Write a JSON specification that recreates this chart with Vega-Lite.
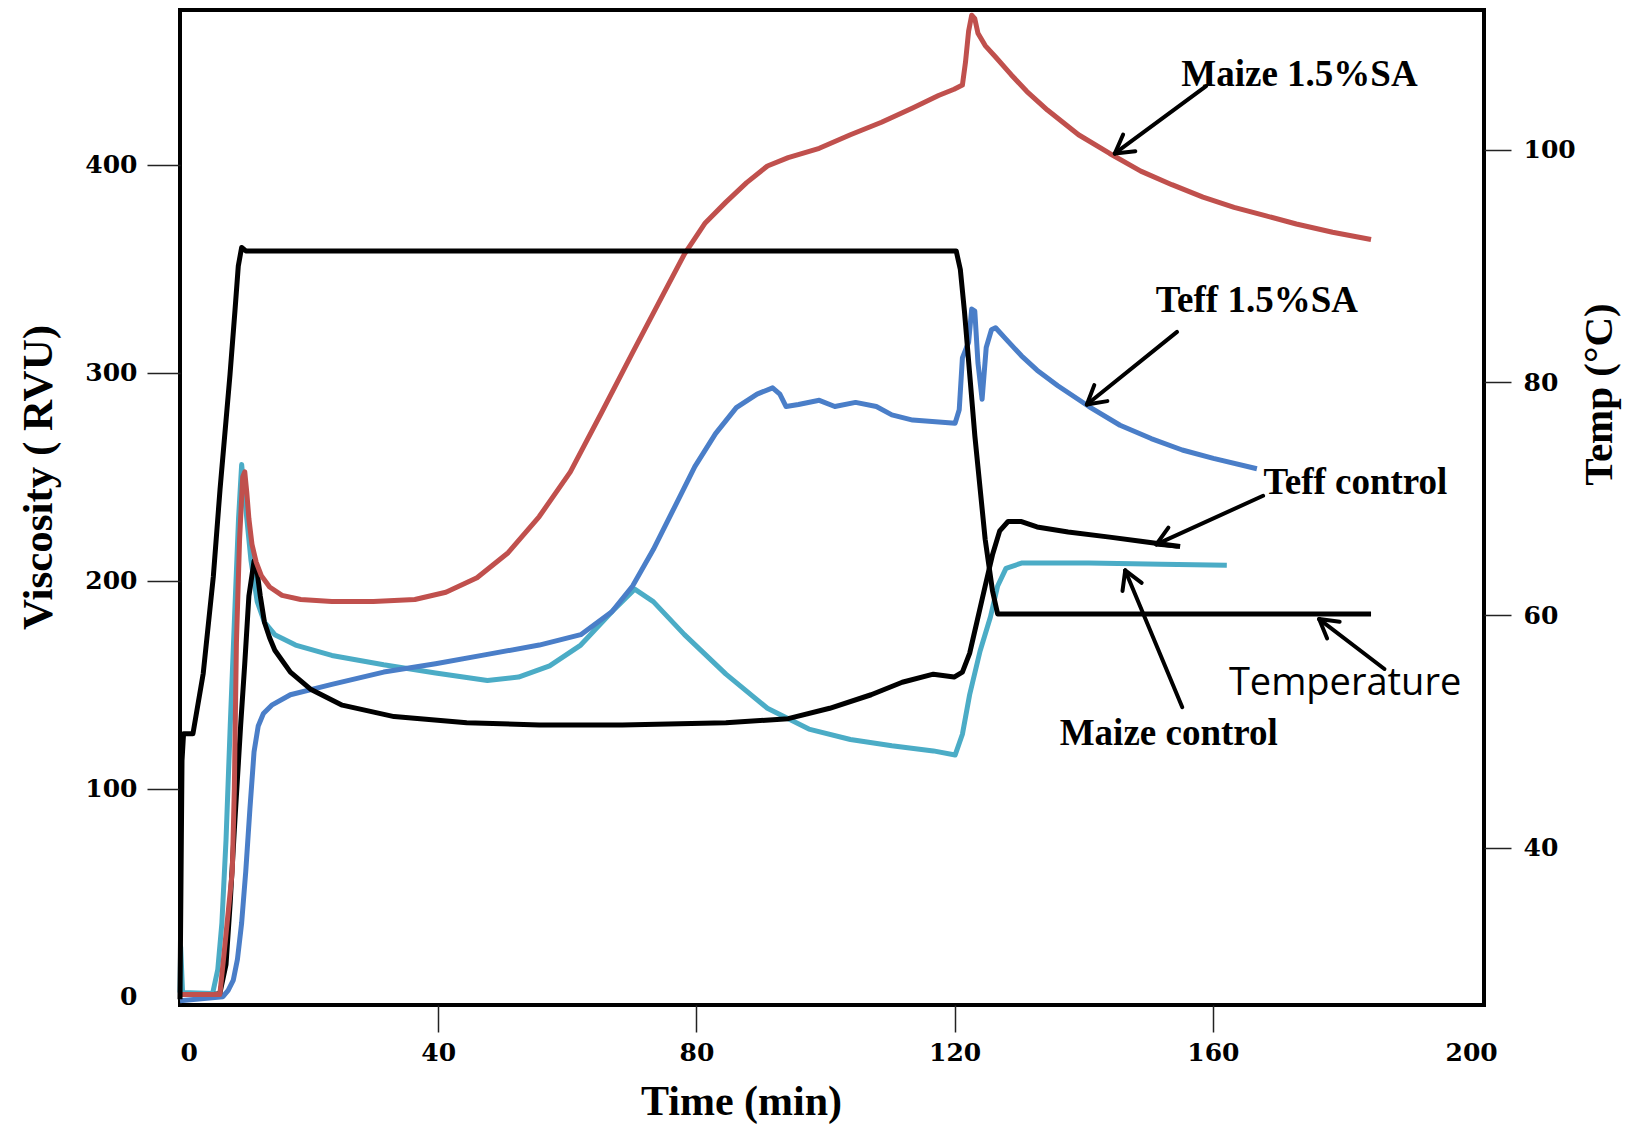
{
  "$schema": "https://vega.github.io/schema/vega-lite/v6.json",
  "width": 1304,
  "height": 995,
  "autosize": {"type": "none"},
  "padding": {"left": 180, "top": 10, "right": 142, "bottom": 124},
  "background": "white",
  "config": {
    "view": {"stroke": "black", "strokeWidth": 4},
    "axis": {
      "domain": false,
      "grid": false,
      "tickColor": "#222222",
      "tickWidth": 1.5,
      "labelColor": "black",
      "labelFont": "DejaVu Serif",
      "labelFontWeight": "bold",
      "labelFontSize": 25,
      "titleColor": "black",
      "titleFont": "Liberation Serif",
      "titleFontWeight": "bold"
    }
  },
  "datasets": {
    "viscosity": [
      {"series": "Maize control", "t": 0.0, "v": 2},
      {"series": "Maize control", "t": 0.1, "v": 24},
      {"series": "Maize control", "t": 0.4, "v": 2},
      {"series": "Maize control", "t": 5.05, "v": 1.5},
      {"series": "Maize control", "t": 5.85, "v": 13.0},
      {"series": "Maize control", "t": 6.49, "v": 35.5},
      {"series": "Maize control", "t": 7.13, "v": 75.4},
      {"series": "Maize control", "t": 7.78, "v": 130.2},
      {"series": "Maize control", "t": 8.42, "v": 180.1},
      {"series": "Maize control", "t": 9.07, "v": 230.0},
      {"series": "Maize control", "t": 9.55, "v": 255.9},
      {"series": "Maize control", "t": 10.19, "v": 234.9},
      {"series": "Maize control", "t": 10.99, "v": 210.0},
      {"series": "Maize control", "t": 11.96, "v": 190.0},
      {"series": "Maize control", "t": 13.08, "v": 180.1},
      {"series": "Maize control", "t": 14.69, "v": 174.1},
      {"series": "Maize control", "t": 17.9, "v": 169.1},
      {"series": "Maize control", "t": 23.52, "v": 164.1},
      {"series": "Maize control", "t": 31.55, "v": 159.6},
      {"series": "Maize control", "t": 39.59, "v": 155.7},
      {"series": "Maize control", "t": 47.62, "v": 152.1},
      {"series": "Maize control", "t": 52.44, "v": 153.7},
      {"series": "Maize control", "t": 57.26, "v": 159.1},
      {"series": "Maize control", "t": 62.08, "v": 169.1},
      {"series": "Maize control", "t": 66.9, "v": 185.1},
      {"series": "Maize control", "t": 70.43, "v": 196.0},
      {"series": "Maize control", "t": 73.32, "v": 190.0},
      {"series": "Maize control", "t": 78.14, "v": 174.1},
      {"series": "Maize control", "t": 84.57, "v": 155.1},
      {"series": "Maize control", "t": 90.99, "v": 138.7},
      {"series": "Maize control", "t": 97.42, "v": 128.7},
      {"series": "Maize control", "t": 103.85, "v": 123.7},
      {"series": "Maize control", "t": 110.27, "v": 120.7},
      {"series": "Maize control", "t": 116.7, "v": 118.2},
      {"series": "Maize control", "t": 120.07, "v": 116.2},
      {"series": "Maize control", "t": 121.2, "v": 126.2},
      {"series": "Maize control", "t": 122.32, "v": 145.2},
      {"series": "Maize control", "t": 123.93, "v": 166.1},
      {"series": "Maize control", "t": 125.54, "v": 182.6},
      {"series": "Maize control", "t": 126.66, "v": 197.5},
      {"series": "Maize control", "t": 127.95, "v": 206.0},
      {"series": "Maize control", "t": 130.35, "v": 208.5},
      {"series": "Maize control", "t": 140.8, "v": 208.5},
      {"series": "Maize control", "t": 152.04, "v": 208.0},
      {"series": "Maize control", "t": 162.16, "v": 207.5},

      {"series": "Teff 1.5%SA", "t": 0.0, "v": -2},
      {"series": "Teff 1.5%SA", "t": 6.65, "v": 0},
      {"series": "Teff 1.5%SA", "t": 7.46, "v": 3.0},
      {"series": "Teff 1.5%SA", "t": 8.26, "v": 8.0},
      {"series": "Teff 1.5%SA", "t": 8.9, "v": 18.0},
      {"series": "Teff 1.5%SA", "t": 9.55, "v": 35.5},
      {"series": "Teff 1.5%SA", "t": 10.19, "v": 60.4},
      {"series": "Teff 1.5%SA", "t": 10.83, "v": 90.3},
      {"series": "Teff 1.5%SA", "t": 11.47, "v": 117.7},
      {"series": "Teff 1.5%SA", "t": 12.12, "v": 130.2},
      {"series": "Teff 1.5%SA", "t": 12.92, "v": 136.2},
      {"series": "Teff 1.5%SA", "t": 14.21, "v": 140.2},
      {"series": "Teff 1.5%SA", "t": 17.1, "v": 145.2},
      {"series": "Teff 1.5%SA", "t": 23.52, "v": 150.2},
      {"series": "Teff 1.5%SA", "t": 31.55, "v": 156.1},
      {"series": "Teff 1.5%SA", "t": 39.59, "v": 160.1},
      {"series": "Teff 1.5%SA", "t": 47.62, "v": 164.6},
      {"series": "Teff 1.5%SA", "t": 55.65, "v": 169.1},
      {"series": "Teff 1.5%SA", "t": 62.08, "v": 174.1},
      {"series": "Teff 1.5%SA", "t": 66.9, "v": 185.1},
      {"series": "Teff 1.5%SA", "t": 70.11, "v": 197.5},
      {"series": "Teff 1.5%SA", "t": 73.32, "v": 215.0},
      {"series": "Teff 1.5%SA", "t": 76.54, "v": 235.0},
      {"series": "Teff 1.5%SA", "t": 79.75, "v": 254.9},
      {"series": "Teff 1.5%SA", "t": 82.96, "v": 270.8},
      {"series": "Teff 1.5%SA", "t": 86.18, "v": 283.3},
      {"series": "Teff 1.5%SA", "t": 89.39, "v": 289.8},
      {"series": "Teff 1.5%SA", "t": 91.8, "v": 292.8},
      {"series": "Teff 1.5%SA", "t": 92.92, "v": 289.8},
      {"series": "Teff 1.5%SA", "t": 93.89, "v": 283.8},
      {"series": "Teff 1.5%SA", "t": 95.81, "v": 284.8},
      {"series": "Teff 1.5%SA", "t": 99.03, "v": 286.8},
      {"series": "Teff 1.5%SA", "t": 101.44, "v": 283.8},
      {"series": "Teff 1.5%SA", "t": 104.65, "v": 285.8},
      {"series": "Teff 1.5%SA", "t": 107.87, "v": 283.8},
      {"series": "Teff 1.5%SA", "t": 110.27, "v": 279.8},
      {"series": "Teff 1.5%SA", "t": 113.49, "v": 277.3},
      {"series": "Teff 1.5%SA", "t": 120.07, "v": 275.8},
      {"series": "Teff 1.5%SA", "t": 120.71, "v": 282.3},
      {"series": "Teff 1.5%SA", "t": 121.2, "v": 307.2},
      {"series": "Teff 1.5%SA", "t": 122.16, "v": 314.7},
      {"series": "Teff 1.5%SA", "t": 122.64, "v": 330.7},
      {"series": "Teff 1.5%SA", "t": 123.12, "v": 329.7},
      {"series": "Teff 1.5%SA", "t": 123.61, "v": 304.8},
      {"series": "Teff 1.5%SA", "t": 124.25, "v": 287.3},
      {"series": "Teff 1.5%SA", "t": 124.89, "v": 312.2},
      {"series": "Teff 1.5%SA", "t": 125.7, "v": 320.7},
      {"series": "Teff 1.5%SA", "t": 126.34, "v": 321.7},
      {"series": "Teff 1.5%SA", "t": 127.95, "v": 316.2},
      {"series": "Teff 1.5%SA", "t": 130.35, "v": 308.2},
      {"series": "Teff 1.5%SA", "t": 132.76, "v": 301.3},
      {"series": "Teff 1.5%SA", "t": 135.98, "v": 293.8},
      {"series": "Teff 1.5%SA", "t": 140.8, "v": 283.8},
      {"series": "Teff 1.5%SA", "t": 145.62, "v": 274.8},
      {"series": "Teff 1.5%SA", "t": 150.44, "v": 268.4},
      {"series": "Teff 1.5%SA", "t": 155.26, "v": 262.9},
      {"series": "Teff 1.5%SA", "t": 160.08, "v": 258.9},
      {"series": "Teff 1.5%SA", "t": 166.82, "v": 253.9},

      {"series": "Teff control", "t": 0.3, "v": 1},
      {"series": "Teff control", "t": 5.05, "v": 1},
      {"series": "Teff control", "t": 6.17, "v": 1.5},
      {"series": "Teff control", "t": 7.13, "v": 15.5},
      {"series": "Teff control", "t": 7.78, "v": 45.4},
      {"series": "Teff control", "t": 8.42, "v": 80.3},
      {"series": "Teff control", "t": 9.39, "v": 130.2},
      {"series": "Teff control", "t": 10.03, "v": 160.1},
      {"series": "Teff control", "t": 10.67, "v": 192.6},
      {"series": "Teff control", "t": 11.47, "v": 209.5},
      {"series": "Teff control", "t": 11.96, "v": 204.0},
      {"series": "Teff control", "t": 12.44, "v": 192.6},
      {"series": "Teff control", "t": 13.08, "v": 180.1},
      {"series": "Teff control", "t": 13.88, "v": 172.6},
      {"series": "Teff control", "t": 14.69, "v": 166.6},
      {"series": "Teff control", "t": 17.1, "v": 156.1},
      {"series": "Teff control", "t": 20.31, "v": 147.7},
      {"series": "Teff control", "t": 25.13, "v": 140.2},
      {"series": "Teff control", "t": 33.16, "v": 134.7},
      {"series": "Teff control", "t": 44.41, "v": 131.7},
      {"series": "Teff control", "t": 55.65, "v": 130.7},
      {"series": "Teff control", "t": 68.5, "v": 130.7},
      {"series": "Teff control", "t": 84.57, "v": 131.7},
      {"series": "Teff control", "t": 94.21, "v": 133.7},
      {"series": "Teff control", "t": 100.64, "v": 138.7},
      {"series": "Teff control", "t": 107.06, "v": 145.2},
      {"series": "Teff control", "t": 111.88, "v": 151.2},
      {"series": "Teff control", "t": 116.7, "v": 155.1},
      {"series": "Teff control", "t": 119.91, "v": 153.7},
      {"series": "Teff control", "t": 121.2, "v": 156.1},
      {"series": "Teff control", "t": 122.32, "v": 165.1},
      {"series": "Teff control", "t": 123.44, "v": 180.1},
      {"series": "Teff control", "t": 124.73, "v": 197.5},
      {"series": "Teff control", "t": 125.86, "v": 212.5},
      {"series": "Teff control", "t": 126.98, "v": 224.0},
      {"series": "Teff control", "t": 128.27, "v": 228.5},
      {"series": "Teff control", "t": 130.35, "v": 228.5},
      {"series": "Teff control", "t": 132.76, "v": 225.9},
      {"series": "Teff control", "t": 137.58, "v": 223.5},
      {"series": "Teff control", "t": 144.01, "v": 221.0},
      {"series": "Teff control", "t": 148.83, "v": 219.0},
      {"series": "Teff control", "t": 154.93, "v": 216.5},

      {"series": "Maize 1.5%SA", "t": 0.0, "v": 1},
      {"series": "Maize 1.5%SA", "t": 6.17, "v": 1},
      {"series": "Maize 1.5%SA", "t": 6.82, "v": 20.5},
      {"series": "Maize 1.5%SA", "t": 7.46, "v": 40.5},
      {"series": "Maize 1.5%SA", "t": 8.1, "v": 60.4},
      {"series": "Maize 1.5%SA", "t": 8.42, "v": 100.3},
      {"series": "Maize 1.5%SA", "t": 8.74, "v": 170.1},
      {"series": "Maize 1.5%SA", "t": 9.23, "v": 220.0},
      {"series": "Maize 1.5%SA", "t": 9.71, "v": 249.9},
      {"series": "Maize 1.5%SA", "t": 10.03, "v": 252.4},
      {"series": "Maize 1.5%SA", "t": 10.35, "v": 242.4},
      {"series": "Maize 1.5%SA", "t": 10.67, "v": 229.9},
      {"series": "Maize 1.5%SA", "t": 11.15, "v": 217.5},
      {"series": "Maize 1.5%SA", "t": 11.8, "v": 209.0},
      {"series": "Maize 1.5%SA", "t": 12.6, "v": 202.5},
      {"series": "Maize 1.5%SA", "t": 13.88, "v": 197.0},
      {"series": "Maize 1.5%SA", "t": 15.81, "v": 193.0},
      {"series": "Maize 1.5%SA", "t": 18.7, "v": 191.0},
      {"series": "Maize 1.5%SA", "t": 23.52, "v": 190.0},
      {"series": "Maize 1.5%SA", "t": 29.95, "v": 190.0},
      {"series": "Maize 1.5%SA", "t": 36.38, "v": 191.0},
      {"series": "Maize 1.5%SA", "t": 41.19, "v": 194.5},
      {"series": "Maize 1.5%SA", "t": 46.01, "v": 201.5},
      {"series": "Maize 1.5%SA", "t": 50.83, "v": 213.5},
      {"series": "Maize 1.5%SA", "t": 55.65, "v": 230.9},
      {"series": "Maize 1.5%SA", "t": 60.47, "v": 252.4},
      {"series": "Maize 1.5%SA", "t": 65.29, "v": 280.8},
      {"series": "Maize 1.5%SA", "t": 70.11, "v": 309.7},
      {"series": "Maize 1.5%SA", "t": 74.93, "v": 338.2},
      {"series": "Maize 1.5%SA", "t": 78.14, "v": 357.1},
      {"series": "Maize 1.5%SA", "t": 81.36, "v": 372.1},
      {"series": "Maize 1.5%SA", "t": 84.57, "v": 382.1},
      {"series": "Maize 1.5%SA", "t": 87.78, "v": 391.5},
      {"series": "Maize 1.5%SA", "t": 91.0, "v": 399.5},
      {"series": "Maize 1.5%SA", "t": 94.21, "v": 403.5},
      {"series": "Maize 1.5%SA", "t": 99.03, "v": 408.0},
      {"series": "Maize 1.5%SA", "t": 103.85, "v": 414.5},
      {"series": "Maize 1.5%SA", "t": 108.67, "v": 420.5},
      {"series": "Maize 1.5%SA", "t": 113.49, "v": 427.4},
      {"series": "Maize 1.5%SA", "t": 117.5, "v": 433.4},
      {"series": "Maize 1.5%SA", "t": 119.91, "v": 436.4},
      {"series": "Maize 1.5%SA", "t": 121.2, "v": 438.4},
      {"series": "Maize 1.5%SA", "t": 121.68, "v": 449.4},
      {"series": "Maize 1.5%SA", "t": 122.16, "v": 464.3},
      {"series": "Maize 1.5%SA", "t": 122.64, "v": 472.0},
      {"series": "Maize 1.5%SA", "t": 123.12, "v": 470.3},
      {"series": "Maize 1.5%SA", "t": 123.61, "v": 463.3},
      {"series": "Maize 1.5%SA", "t": 124.73, "v": 457.4},
      {"series": "Maize 1.5%SA", "t": 126.34, "v": 451.9},
      {"series": "Maize 1.5%SA", "t": 128.75, "v": 443.4},
      {"series": "Maize 1.5%SA", "t": 131.16, "v": 435.4},
      {"series": "Maize 1.5%SA", "t": 134.37, "v": 426.4},
      {"series": "Maize 1.5%SA", "t": 139.19, "v": 414.5},
      {"series": "Maize 1.5%SA", "t": 144.01, "v": 405.5},
      {"series": "Maize 1.5%SA", "t": 148.83, "v": 397.0},
      {"series": "Maize 1.5%SA", "t": 153.65, "v": 390.5},
      {"series": "Maize 1.5%SA", "t": 158.47, "v": 384.5},
      {"series": "Maize 1.5%SA", "t": 163.29, "v": 379.6},
      {"series": "Maize 1.5%SA", "t": 168.11, "v": 375.6},
      {"series": "Maize 1.5%SA", "t": 172.93, "v": 371.6},
      {"series": "Maize 1.5%SA", "t": 178.55, "v": 367.6},
      {"series": "Maize 1.5%SA", "t": 184.5, "v": 364.1}
    ],
    "temperature": [
      {"t": 0.0, "temp": 27.0},
      {"t": 0.31, "temp": 47.5},
      {"t": 0.55, "temp": 49.8},
      {"t": 2.0, "temp": 49.8},
      {"t": 3.6, "temp": 55.0},
      {"t": 5.16, "temp": 63.3},
      {"t": 6.2, "temp": 70.8},
      {"t": 7.75, "temp": 80.7},
      {"t": 8.52, "temp": 86.2},
      {"t": 9.03, "temp": 90.0},
      {"t": 9.55, "temp": 91.6},
      {"t": 10.2, "temp": 91.3},
      {"t": 120.24, "temp": 91.3},
      {"t": 120.88, "temp": 89.7},
      {"t": 121.52, "temp": 86.1},
      {"t": 123.13, "temp": 75.4},
      {"t": 124.73, "temp": 66.5},
      {"t": 125.86, "temp": 62.1},
      {"t": 126.66, "temp": 60.1},
      {"t": 184.5, "temp": 60.1}
    ],
    "arrows": [
      {"t1": 158.95, "v1": 437.9, "t2": 144.81, "v2": 405.5},
      {"t1": 144.81, "v1": 405.5, "t2": 147.99, "v2": 406.6},
      {"t1": 144.81, "v1": 405.5, "t2": 146.1, "v2": 414.6},
      {"t1": 154.45, "v1": 319.7, "t2": 140.48, "v2": 284.8},
      {"t1": 140.48, "v1": 284.8, "t2": 143.66, "v2": 286.4},
      {"t1": 140.48, "v1": 284.8, "t2": 141.63, "v2": 294.1},
      {"t1": 167.78, "v1": 240.9, "t2": 151.24, "v2": 217.5},
      {"t1": 151.24, "v1": 217.5, "t2": 154.44, "v2": 216.5},
      {"t1": 151.24, "v1": 217.5, "t2": 153.11, "v2": 225.6},
      {"t1": 155.26, "v1": 139.2, "t2": 146.42, "v2": 205.0},
      {"t1": 146.42, "v1": 205.0, "t2": 146.0, "v2": 195.1},
      {"t1": 146.42, "v1": 205.0, "t2": 148.97, "v2": 199.0},
      {"t1": 186.58, "v1": 157.6, "t2": 176.46, "v2": 181.6},
      {"t1": 176.46, "v1": 181.6, "t2": 177.7, "v2": 172.3},
      {"t1": 176.46, "v1": 181.6, "t2": 179.64, "v2": 180.3}
    ],
    "labels": [
      {"label": "Maize 1.5%SA", "t": 173.41, "v": 443.4},
      {"label": "Teff 1.5%SA", "t": 166.82, "v": 334.7},
      {"label": "Teff control", "t": 182.08, "v": 246.9},
      {"label": "Maize control", "t": 153.17, "v": 126.2},
      {"label": "Temperature", "t": 180.48, "v": 150.2}
    ]
  },
  "layer": [
    {
      "layer": [
        {
          "data": {"name": "viscosity"},
          "mark": {"type": "line", "strokeWidth": 5, "strokeJoin": "round"},
          "encoding": {
            "x": {
              "field": "t",
              "type": "quantitative",
              "scale": {"domain": [0, 202], "nice": false, "zero": false},
              "axis": {
                "values": [0, 40, 80, 120, 160, 200],
                "tickSize": 27,
                "tickOpacity": {"condition": {"test": "datum.value === 0 || datum.value === 200", "value": 0}, "value": 1},
                "labelPadding": 8,
                "title": "Time (min)",
                "titleFontSize": 42,
                "titlePadding": 16,
                "titleX": 561
              }
            },
            "y": {
              "field": "v",
              "type": "quantitative",
              "scale": {"domain": [-4, 474.5], "nice": false, "zero": false},
              "axis": {
                "orient": "left",
                "values": [0, 100, 200, 300, 400],
                "tickSize": 33,
                "tickOpacity": {"condition": {"test": "datum.value === 0", "value": 0}, "value": 1},
                "labelPadding": 10,
                "title": "Viscosity ( RVU)",
                "titleFontSize": 43,
                "titlePadding": 24,
                "titleY": 467
              }
            },
            "color": {
              "field": "series",
              "type": "nominal",
              "scale": {
                "domain": ["Maize control", "Teff 1.5%SA", "Teff control", "Maize 1.5%SA"],
                "range": ["#4bacc6", "#4a7ec8", "#000000", "#c0504d"]
              },
              "legend": null
            }
          }
        },
        {
          "data": {"name": "arrows"},
          "mark": {"type": "rule", "color": "black", "strokeWidth": 4, "strokeCap": "round"},
          "encoding": {
            "x": {"field": "t1", "type": "quantitative"},
            "y": {"field": "v1", "type": "quantitative"},
            "x2": {"field": "t2"},
            "y2": {"field": "v2"}
          }
        },
        {
          "data": {"name": "labels"},
          "transform": [{"filter": "datum.label !== 'Temperature'"}],
          "mark": {
            "type": "text",
            "font": "Liberation Serif",
            "fontWeight": "bold",
            "fontSize": 37,
            "align": "center",
            "baseline": "middle",
            "color": "black"
          },
          "encoding": {
            "x": {"field": "t", "type": "quantitative"},
            "y": {"field": "v", "type": "quantitative"},
            "text": {"field": "label"}
          }
        },
        {
          "data": {"name": "labels"},
          "transform": [{"filter": "datum.label === 'Temperature'"}],
          "mark": {
            "type": "text",
            "font": "Open Sans",
            "fontSize": 38,
            "align": "center",
            "baseline": "middle",
            "color": "black"
          },
          "encoding": {
            "x": {"field": "t", "type": "quantitative"},
            "y": {"field": "v", "type": "quantitative"},
            "text": {"field": "label"}
          }
        }
      ]
    },
    {
      "data": {"name": "temperature"},
      "mark": {"type": "line", "color": "black", "strokeWidth": 5, "strokeJoin": "round"},
      "encoding": {
        "x": {"field": "t", "type": "quantitative"},
        "y": {
          "field": "temp",
          "type": "quantitative",
          "scale": {"domain": [26.5, 112], "nice": false, "zero": false},
          "axis": {
            "orient": "right",
            "values": [40, 60, 80, 100],
            "tickSize": 27,
            "labelPadding": 12,
            "title": "Temp (°C)",
            "titleFontSize": 41,
            "titleAngle": -90,
            "titleBaseline": "top",
            "titlePadding": 4,
            "titleY": 384
          }
        }
      }
    }
  ],
  "resolve": {"scale": {"y": "independent"}}
}
